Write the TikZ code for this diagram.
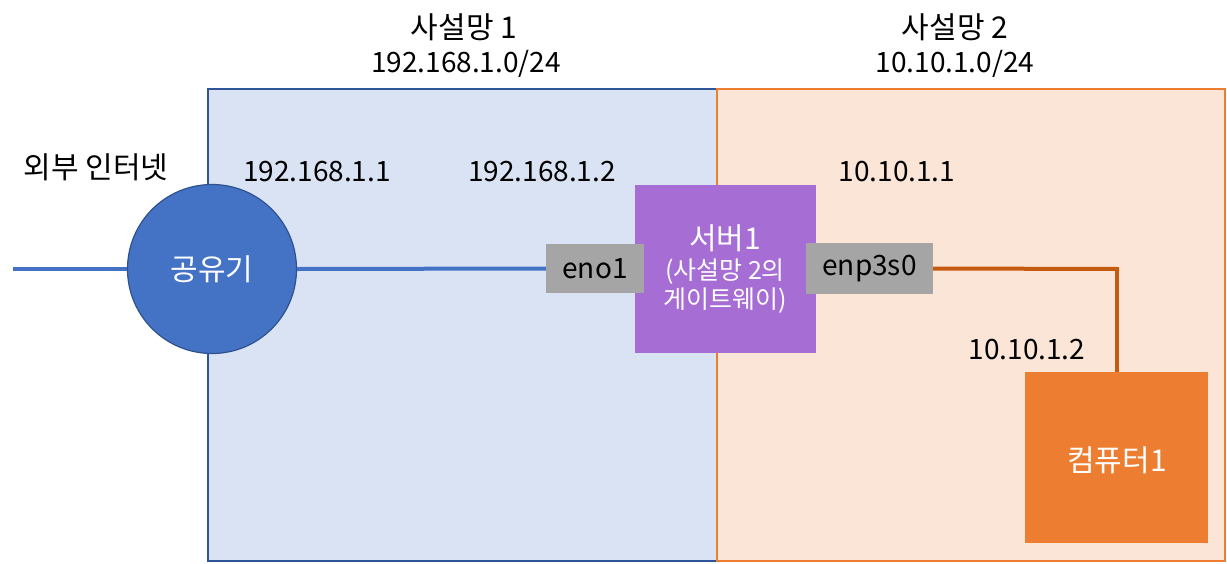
\documentclass[tikz,border=0pt]{standalone}
\usepackage{fontspec}
\setmainfont{Noto Sans CJK KR}
\definecolor{netAfill}{HTML}{DAE3F3}
\definecolor{netAline}{HTML}{2F5597}
\definecolor{netBfill}{HTML}{FBE5D6}
\definecolor{netBline}{HTML}{ED7D31}
\definecolor{routerfill}{HTML}{4472C4}
\definecolor{routerline}{HTML}{2F528F}
\definecolor{serverfill}{HTML}{A66DD4}
\definecolor{portfill}{HTML}{A5A5A5}
\definecolor{pcfill}{HTML}{ED7D31}
\definecolor{orangeline}{HTML}{C55A11}
\begin{document}
\begin{tikzpicture}[x=1pt,y=-1pt,
  netbox/.style={draw, line width=1.5pt, inner sep=0pt},
  lbl/.style={font=\fontsize{28}{33}\selectfont, text=black, inner sep=0pt, align=center},
  klbl/.style={font=\fontsize{30}{35}\selectfont, text=black, inner sep=0pt, align=center},
  wlbl/.style={font=\fontsize{30}{35}\selectfont, text=white, inner sep=0pt, align=center},
  slbl/.style={font=\fontsize{25}{30}\selectfont, text=white, inner sep=0pt},
  port/.style={fill=portfill, inner sep=0pt, font=\fontsize{28}{33}\selectfont},
  blueconn/.style={draw=routerfill, line width=4pt},
  orangeconn/.style={draw=orangeline, line width=4pt}]
\useasboundingbox (0,0) rectangle (1227,563);
\fill[white] (0,0) rectangle (1227,563);
% networks
\node[netbox, draw=netAline, fill=netAfill, minimum width=509pt, minimum height=472pt] (netA) at (462.5,325) {};
\node[netbox, draw=netBline, fill=netBfill, minimum width=508pt, minimum height=472pt] (netB) at (971,325) {};
% titles
\node[klbl] (tA) at (464,27) {사설망 1};
\node[lbl] (sA) at (466,64) {192.168.1.0/24};
\node[klbl] (tB) at (955,27) {사설망 2};
\node[lbl] (sB) at (955,64) {10.10.1.0/24};
\node[klbl] (inet) at (96,167) {외부 인터넷};
\node[lbl] (ip1) at (317,172) {192.168.1.1};
\node[lbl] (ip2) at (542,172) {192.168.1.2};
\node[lbl] (ip3) at (897,172) {10.10.1.1};
\node[lbl] (ip4) at (1027,350) {10.10.1.2};
% router
\node[circle, draw=routerline, line width=1.2pt, fill=routerfill, minimum size=169pt, inner sep=0pt] (router) at (212,269) {};
\node[wlbl] (routerlbl) at (212,269) {공유기};
\coordinate (ext) at (13,269);
% server
\node[fill=serverfill, minimum width=181pt, minimum height=168pt, inner sep=0pt] (server) at (725.5,269) {};
\node[wlbl] (srv1) at (725,238) {서버1};
\node[slbl] (srv2) at (725,272) {(사설망 2의};
\node[slbl] (srv3) at (725,301) {게이트웨이)};
% ports
\node[port, minimum width=98pt, minimum height=49pt] (eno) at (595,268.5) {eno1};
\node[port, minimum width=127pt, minimum height=51pt] (enp) at (869.5,268.5) {enp3s0};
% computer
\node[fill=pcfill, minimum width=183pt, minimum height=171pt, inner sep=0pt] (pc) at (1116.5,457.5) {};
\node[wlbl] (pclbl) at (1117,460) {컴퓨터1};
\coordinate (bend) at (1117,269);
% connectors
\draw[blueconn] (ext) -- (router.west);
\draw[blueconn] (router.east) -- (eno.west);
\draw[orangeconn] (enp.east) -- ([xshift=2pt]bend) ;
\draw[orangeconn] (bend) -- (bend |- pc.north);
\end{tikzpicture}
\end{document}
